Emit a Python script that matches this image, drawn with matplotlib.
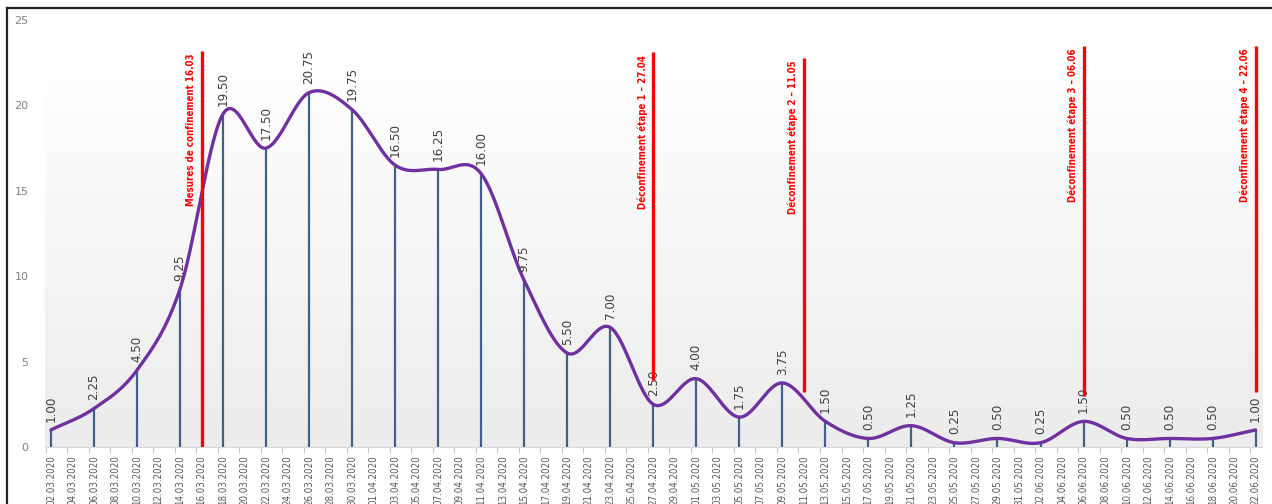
import numpy as np
import pandas as pd
import matplotlib
matplotlib.use('Agg')
import matplotlib.pyplot as plt
from matplotlib.colors import LinearSegmentedColormap
from matplotlib.lines import Line2D

plt.rcParams['font.family'] = ['DejaVu Sans']
plt.rcParams['font.stretch'] = 'condensed'

# valeurs (tous les 4 jours)
dates = ['02.03.2020', '06.03.2020', '10.03.2020', '14.03.2020', '18.03.2020', '22.03.2020',
         '26.03.2020', '30.03.2020', '03.04.2020', '07.04.2020', '11.04.2020', '15.04.2020',
         '19.04.2020', '23.04.2020', '27.04.2020', '01.05.2020', '05.05.2020', '09.05.2020',
         '13.05.2020', '17.05.2020', '21.05.2020', '25.05.2020', '29.05.2020', '02.06.2020',
         '06.06.2020', '10.06.2020', '14.06.2020', '18.06.2020', '22.06.2020']
values = [1.00, 2.25, 4.50, 9.25, 19.50, 17.50, 20.75, 19.75, 16.50, 16.25, 16.00, 9.75,
          5.50, 7.00, 2.50, 4.00, 1.75, 3.75, 1.50, 0.50, 1.25, 0.25, 0.50, 0.25,
          1.50, 0.50, 0.50, 0.50, 1.00]

event_dates = ['16.03.2020', '27.04.2020', '11.05.2020', '06.06.2020', '22.06.2020']
event_labels = ['Mesures de confinement 16.03',
                'Déconfinement étape 1 – 27.04',
                'Déconfinement étape 2 – 11.05',
                'Déconfinement étape 3 – 06.06',
                'Déconfinement étape 4 – 22.06']
event_top = [23.2, 23.1, 22.8, 23.5, 23.5]
event_bottom = [0, 3.9, 3.2, 3.0, 3.2]

start = pd.Timestamp('2020-03-02')
tick_dates = pd.date_range('2020-03-02', '2020-06-22', freq='2D')
tick_labels = list(tick_dates.strftime('%d.%m.%Y'))


def to_days(lst):
    return np.array((pd.to_datetime(lst, format='%d.%m.%Y') - start).days, dtype=float)


x = to_days(dates)
ex = to_days(event_dates)
tx = np.array((tick_dates - start).days, dtype=float)


def smooth(x, y, n=30):
    # courbe lissée type Excel (Catmull-Rom)
    px = np.concatenate([[2*x[0]-x[1]], x, [2*x[-1]-x[-2]]])
    py = np.concatenate([[2*y[0]-y[1]], y, [2*y[-1]-y[-2]]])
    t = np.linspace(0, 1, n, endpoint=False)
    xs, ys = [], []
    for i in range(1, len(px)-2):
        for arr, out in ((px, xs), (py, ys)):
            p0, p1, p2, p3 = arr[i-1:i+3]
            out.append(0.5*(2*p1 + (p2-p0)*t + (2*p0-5*p1+4*p2-p3)*t**2 + (3*p1-p0-3*p2+p3)*t**3))
    xs.append([x[-1]])
    ys.append([y[-1]])
    return np.concatenate(xs), np.concatenate(ys)


fig = plt.figure(figsize=(12.72, 5.04), dpi=100)
ax = fig.add_axes([0.0354, 0.1131, 0.9568, 0.8472])
xmin, xmax = -0.55, 112.6
ax.set_xlim(xmin, xmax)
ax.set_ylim(0, 25)

cmap = LinearSegmentedColormap.from_list('bg', ['#ffffff', '#ececec'])
ax.imshow(np.linspace(0, 1, 100).reshape(-1, 1), cmap=cmap, aspect='auto',
          extent=[xmin, xmax, 0, 22], origin='upper', zorder=0)

ax.vlines(x, 0, values, color='#41618a', lw=1.6, zorder=2)
sx, sy = smooth(x, np.array(values))
ax.plot(sx, sy, color='#7030a0', lw=2.4, zorder=3, solid_capstyle='round')

for xi, v in zip(x, values):
    ax.annotate(f'{v:.2f}', (xi, v), xytext=(0, 6), textcoords='offset points',
                rotation=90, ha='center', va='bottom', fontsize=9.5, color='#404040', zorder=4)

for xi, lab, top, bot in zip(ex, event_labels, event_top, event_bottom):
    ax.vlines(xi, bot, top, color='#ff0000', lw=2.4, zorder=5)
    ax.annotate(lab, (xi, top), xytext=(-4, -2), textcoords='offset points',
                rotation=90, ha='right', va='top', fontsize=7, fontweight='bold',
                color='#ff0000', zorder=5)

ax.set_xticks(tx)
ax.set_xticklabels(tick_labels, rotation=90, fontsize=7, color='#595959')
ax.set_xticks(tx - 0.5, minor=True)
ax.tick_params(axis='x', which='major', length=0, pad=6)
ax.tick_params(axis='x', which='minor', length=4, color='#bfbfbf')
ax.set_yticks([0, 5, 10, 15, 20, 25])
ax.set_yticklabels(['0', '5', '10', '15', '20', '25'], fontsize=8, color='#808080',
                   fontstretch='normal')
ax.tick_params(axis='y', length=0, pad=12)
for s in ['left', 'top', 'right']:
    ax.spines[s].set_visible(False)
ax.spines['bottom'].set_color('#d9d9d9')

# cadre
fig.add_artist(Line2D([7/1272, 7/1272], [0, 1-8/504], transform=fig.transFigure, color='#222222', lw=1.6))
fig.add_artist(Line2D([7/1272, 1], [1-8/504, 1-8/504], transform=fig.transFigure, color='#222222', lw=1.6))

fig.savefig('out.png', dpi=100)
